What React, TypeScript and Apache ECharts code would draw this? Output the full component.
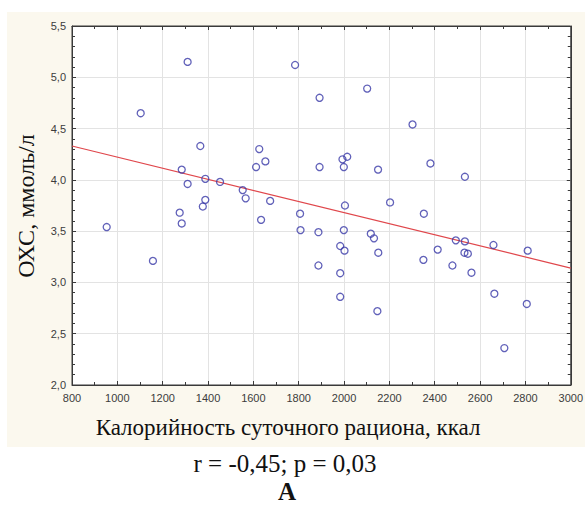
import React, { useEffect, useRef } from "react";
import * as echarts from "echarts";

const calories = [
  953, 1103, 1157, 1275, 1284, 1284, 1310, 1310, 1366, 1377, 1388, 1388, 1453,
  1553, 1566, 1612, 1626, 1634, 1653, 1674, 1784, 1806, 1808, 1887, 1887, 1892,
  1892, 1983, 1983, 1983, 1993, 1999, 1999, 2002, 2004, 2014, 2102, 2118, 2132,
  2147, 2150, 2151, 2203, 2302, 2350, 2352, 2381, 2413, 2478, 2493, 2531, 2533,
  2533, 2546, 2562, 2659, 2663, 2707, 2806, 2810,
];
const cholesterol = [
  3.54, 4.65, 3.21, 3.68, 3.575, 4.1, 5.15, 3.96, 4.33, 3.74, 3.805, 4.01, 3.98,
  3.9, 3.82, 4.125, 4.3, 3.61, 4.18, 3.795, 5.12, 3.67, 3.51, 3.49, 3.165, 4.8,
  4.125, 3.355, 3.09, 2.86, 4.2, 4.125, 3.51, 3.31, 3.75, 4.225, 4.89, 3.475,
  3.43, 2.72, 4.1, 3.29, 3.78, 4.54, 3.22, 3.67, 4.16, 3.32, 3.165, 3.41, 3.29,
  3.4, 4.03, 3.28, 3.095, 3.365, 2.89, 2.36, 2.79, 3.31,
];
const regressionX = [800, 3000];
const regressionY = [4.33, 3.14];

const xTitle = "Калорийность суточного рациона, ккал";
const yTitle = "ОХС, ммоль/л";
const statsText = "r = -0,45; p = 0,03";
const panelLabel = "А";

export default function App() {
  const ref = useRef<HTMLDivElement>(null);
  useEffect(() => {
    if (!ref.current) return;
    const chart = echarts.init(ref.current, null, { renderer: "svg" });
    const points = calories.map((c, i) => [c, cholesterol[i]]);
    const line = regressionX.map((x, i) => [x, regressionY[i]]);
    const axisColor = "#3a3a3a";
    const labelStyle = {
      color: "#3c3c3c",
      fontFamily: "Liberation Sans, Arial, sans-serif",
      fontSize: 11,
    };
    const baseX = {
      type: "value",
      min: 800,
      max: 3000,
      interval: 200,
      axisLine: { show: true, onZero: false, lineStyle: { color: axisColor, width: 1 } },
      axisTick: { show: true, inside: true, length: 4, lineStyle: { color: axisColor } },
      minorTick: { show: true, splitNumber: 2, length: 3, lineStyle: { color: axisColor } },
    };
    const baseY = {
      type: "value",
      min: 2,
      max: 5.5,
      interval: 0.5,
      axisLine: { show: true, onZero: false, lineStyle: { color: axisColor, width: 1 } },
      axisTick: { show: true, inside: true, length: 4, lineStyle: { color: axisColor } },
      minorTick: { show: true, splitNumber: 5, length: 3, lineStyle: { color: axisColor } },
    };
    chart.setOption({
      animation: false,
      backgroundColor: "#ffffff",
      grid: {
        left: 72,
        top: 26,
        right: 15,
        bottom: 122,
        show: true,
        backgroundColor: "#ffffff",
        borderColor: axisColor,
        borderWidth: 1,
      },
      graphic: [
        {
          type: "rect",
          z: -10,
          silent: true,
          shape: { x: 7, y: 12, width: 578, height: 435 },
          style: { fill: "#fbf8ee" },
        },
        {
          type: "text",
          x: 288,
          y: 427,
          style: {
            text: xTitle,
            fill: "#111",
            font: '23px "Liberation Serif", "Times New Roman", serif',
            textAlign: "center",
            textVerticalAlign: "middle",
          },
        },
        {
          type: "text",
          x: 26,
          y: 206,
          rotation: Math.PI / 2,
          style: {
            text: yTitle,
            fill: "#111",
            font: '24px "Liberation Serif", "Times New Roman", serif',
            textAlign: "center",
            textVerticalAlign: "middle",
          },
        },
        {
          type: "text",
          x: 285,
          y: 463,
          style: {
            text: statsText,
            fill: "#111",
            font: '25px "Liberation Serif", "Times New Roman", serif',
            textAlign: "center",
            textVerticalAlign: "middle",
          },
        },
        {
          type: "text",
          x: 287,
          y: 491,
          style: {
            text: panelLabel,
            fill: "#111",
            font: 'bold 25px "Liberation Serif", "Times New Roman", serif',
            textAlign: "center",
            textVerticalAlign: "middle",
          },
        },
      ],
      xAxis: [
        {
          ...baseX,
          position: "bottom",
          axisLabel: { ...labelStyle, margin: 7, formatter: (v: number) => String(v) },
          splitLine: { show: true, lineStyle: { color: "#e3e3e3", width: 1 } },
        },
        {
          ...baseX,
          position: "top",
          axisLabel: { show: false },
          splitLine: { show: false },
        },
      ],
      yAxis: [
        {
          ...baseY,
          position: "left",
          axisLabel: {
            ...labelStyle,
            margin: 6,
            formatter: (v: number) => v.toFixed(1).replace(".", ","),
          },
          splitLine: { show: true, lineStyle: { color: "#e3e3e3", width: 1 } },
        },
        {
          ...baseY,
          position: "right",
          axisLabel: { show: false },
          splitLine: { show: false },
        },
      ],
      series: [
        {
          type: "line",
          data: line,
          symbol: "none",
          lineStyle: { color: "#e0474c", width: 1.2 },
          z: 2,
        },
        {
          type: "scatter",
          data: points,
          symbol: "circle",
          symbolSize: 7,
          itemStyle: { color: "rgba(255,255,255,0)", borderColor: "#3a3aa8", borderWidth: 1.3 },
          z: 3,
        },
      ],
    });
    return () => chart.dispose();
  }, []);
  return (
    <div
      ref={ref}
      style={{ position: "fixed", left: 0, top: 0, width: 586, height: 507 }}
    />
  );
}
